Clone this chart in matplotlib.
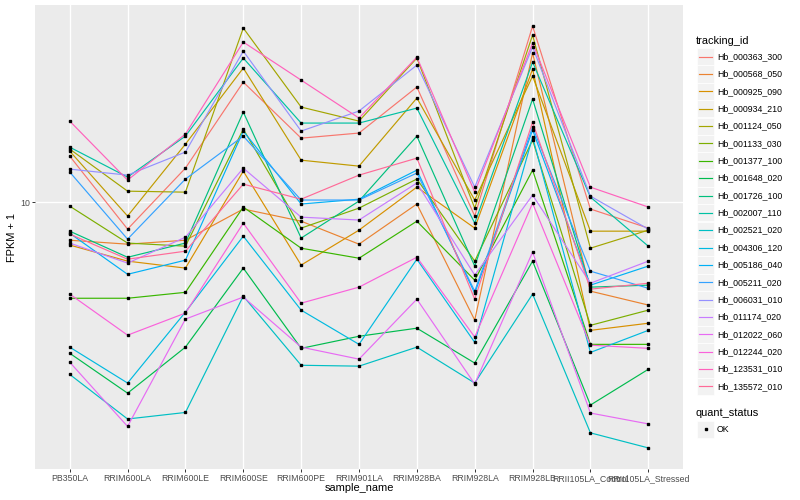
import numpy as np
import matplotlib
matplotlib.use("Agg")
from matplotlib import pyplot as plt, ticker
from matplotlib.patches import Rectangle
from matplotlib.lines import Line2D

plt.rcParams['font.family'] = ['Liberation Sans', 'DejaVu Sans']

samples = ["PB350LA", "RRIM600LA", "RRIM600LE", "RRIM600SE", "RRIM600PE",
           "RRIM901LA", "RRIM928BA", "RRIM928LA", "RRIM928LB",
           "RRII105LA_Control", "RRII105LA_Stressed"]

tracking_ids = ["Hb_000363_300", "Hb_000568_050", "Hb_000925_090", "Hb_000934_210",
                "Hb_001124_050", "Hb_001133_030", "Hb_001377_100", "Hb_001648_020",
                "Hb_001726_100", "Hb_002007_110", "Hb_002521_020", "Hb_004306_120",
                "Hb_005186_040", "Hb_005211_020", "Hb_006031_010", "Hb_011174_020",
                "Hb_012022_060", "Hb_012244_020", "Hb_123531_010", "Hb_135572_010"]

# FPKM + 1, one list per gene, in sample order
hb_000363_300 = [13.03, 8.56, 12.16, 19.95, 14.45, 14.88, 19.39, 9.23, 27.54, 9.61, 8.61]
hb_000568_050 = [8.03, 7.85, 8.03, 9.61, 8.96, 7.85, 9.89, 5.07, 23.58, 5.99, 5.53]
hb_000925_090 = [7.81, 7.12, 6.84, 11.95, 6.96, 8.51, 10.90, 8.61, 21.50, 4.78, 4.98]
hb_000934_210 = [13.41, 9.23, 13.96, 21.63, 12.73, 12.30, 18.20, 10.12, 20.65, 8.46, 8.46]
hb_001124_050 = [13.57, 10.65, 10.59, 27.23, 17.28, 15.94, 22.91, 9.66, 26.15, 7.67, 8.51]
hb_001133_030 = [9.77, 7.90, 7.76, 15.22, 8.61, 9.66, 11.42, 7.12, 14.29, 4.92, 5.37]
hb_001377_100 = [5.75, 5.75, 5.95, 9.72, 7.67, 7.24, 8.96, 6.38, 12.02, 4.41, 4.41]
hb_001648_020 = [4.19, 3.33, 4.34, 6.84, 4.31, 4.62, 4.84, 3.96, 7.12, 3.11, 3.82]
hb_001726_100 = [8.46, 7.28, 7.90, 16.79, 8.13, 10.06, 14.62, 6.92, 18.09, 6.13, 6.20]
hb_002007_110 = [13.72, 11.55, 14.62, 22.91, 15.76, 15.76, 17.18, 8.86, 22.39, 10.29, 7.76]
hb_002521_020 = [3.71, 2.87, 2.98, 5.82, 3.91, 3.89, 4.34, 3.53, 5.89, 2.65, 2.43]
hb_004306_120 = [4.34, 3.53, 5.31, 8.22, 5.37, 4.41, 7.20, 4.46, 14.54, 4.21, 4.78]
hb_005186_040 = [8.36, 6.60, 7.16, 15.05, 9.89, 10.17, 12.02, 5.92, 15.14, 6.20, 6.92]
hb_005211_020 = [11.89, 8.08, 11.42, 14.62, 10.12, 10.12, 11.82, 5.99, 15.40, 6.72, 6.09]
hb_006031_010 = [12.09, 11.68, 13.34, 23.85, 15.05, 16.89, 22.00, 10.90, 24.41, 10.35, 8.56]
hb_011174_020 = [7.90, 7.04, 8.17, 12.16, 9.17, 9.02, 11.16, 6.57, 10.41, 6.27, 7.12]
hb_012022_060 = [3.98, 2.75, 5.10, 5.79, 4.34, 4.05, 5.72, 3.51, 7.50, 2.97, 2.79]
hb_012244_020 = [5.89, 4.65, 5.28, 8.86, 5.59, 6.13, 7.28, 4.60, 9.94, 4.39, 4.31]
hb_123531_010 = [15.94, 11.35, 14.79, 25.12, 20.18, 16.22, 23.04, 10.59, 24.97, 10.90, 9.72]
hb_135572_010 = [8.32, 7.20, 7.54, 11.09, 10.17, 11.68, 12.88, 5.72, 15.85, 6.06, 6.27]

series = [hb_000363_300, hb_000568_050, hb_000925_090, hb_000934_210, hb_001124_050,
          hb_001133_030, hb_001377_100, hb_001648_020, hb_001726_100, hb_002007_110,
          hb_002521_020, hb_004306_120, hb_005186_040, hb_005211_020, hb_006031_010,
          hb_011174_020, hb_012022_060, hb_012244_020, hb_123531_010, hb_135572_010]


def hcl(h, c=100.0, l=65.0):
    # polar Luv -> sRGB, same as R's hcl()
    un, vn = 0.1978398, 0.4683363
    Y = ((l + 16) / 116.0) ** 3
    u = c * np.cos(np.radians(h)) / (13 * l) + un
    v = c * np.sin(np.radians(h)) / (13 * l) + vn
    X = 9.0 * Y * u / (4 * v)
    Z = -X / 3.0 - 5 * Y + 3 * Y / v
    rgb = [3.240479 * X - 1.537150 * Y - 0.498535 * Z,
           -0.969256 * X + 1.875992 * Y + 0.041556 * Z,
           0.055648 * X - 0.204043 * Y + 1.057311 * Z]
    out = []
    for ch in rgb:
        ch = 12.92 * ch if ch <= 0.0031308 else 1.055 * ch ** (1 / 2.4) - 0.055
        out.append(min(max(ch, 0.0), 1.0))
    return out


n = len(tracking_ids)
colors = [hcl(15 + i * 360.0 / n) for i in range(n)]

W, H = 800, 500
fig = plt.figure(figsize=(8, 5), dpi=100)
ax = fig.add_axes([35 / W, 1 - 469 / H, 648 / W, 464 / H])
ax.set_facecolor("#EBEBEB")

x = np.arange(1, len(samples) + 1)
for vals, col in zip(series, colors):
    ax.plot(x, vals, color=col, lw=0.85, zorder=2)
for vals in series:
    ax.plot(x, vals, ls="none", marker="s", ms=1.8, color="black", zorder=3)

ax.set_yscale("log")
allv = np.concatenate([np.array(s) for s in series])
lo, hi = np.log10(allv.min()), np.log10(allv.max())
pad = (hi - lo) * 0.05
ax.set_ylim(10 ** (lo - pad), 10 ** (hi + pad))
ax.set_xlim(0.4, len(samples) + 0.6)
ax.set_yticks([10])
ax.set_yticklabels(["10"])
ax.yaxis.set_minor_locator(ticker.NullLocator())
ax.set_xticks(x)
ax.set_xticklabels(samples)
ax.grid(True, color="white", lw=1.0)
ax.set_axisbelow(True)
for s in ax.spines.values():
    s.set_visible(False)
ax.tick_params(length=2, width=0.7, color="#333333", labelsize=6.3,
               labelcolor="#4D4D4D", pad=1.6)

fig.text(359 / W, 1 - 488 / H, "sample_name", fontsize=7.9, ha="center", va="center")
fig.text(12 / W, 1 - 237 / H, "FPKM + 1", fontsize=7.9, ha="center", va="center",
         rotation=90)

# legend: tracking_id
fig.text(696 / W, 1 - 40.7 / H, "tracking_id", fontsize=7.9, ha="left", va="center")
for i, (name, col) in enumerate(zip(tracking_ids, colors)):
    yc = 56.7 + i * 17.35
    fig.add_artist(Rectangle((697 / W, 1 - (yc + 8.6) / H), 17 / W, 17.2 / H,
                             transform=fig.transFigure, facecolor="#F2F2F2",
                             edgecolor="white", lw=0.5))
    fig.add_artist(Line2D([698.7 / W, 712.3 / W], [1 - yc / H] * 2,
                          transform=fig.transFigure, color=col, lw=0.85))
    fig.text(717 / W, 1 - yc / H, name, fontsize=6.3, ha="left", va="center")

# legend: quant_status
fig.text(696 / W, 1 - 412.7 / H, "quant_status", fontsize=7.9, ha="left", va="center")
fig.add_artist(Rectangle((697 / W, 1 - (429.3 + 8.6) / H), 17 / W, 17.2 / H,
                         transform=fig.transFigure, facecolor="#F2F2F2",
                         edgecolor="white", lw=0.5))
fig.add_artist(Line2D([705.5 / W], [1 - 429.3 / H], transform=fig.transFigure,
                      ls="none", marker="s", ms=1.8, color="black"))
fig.text(717 / W, 1 - 429.3 / H, "OK", fontsize=6.3, ha="left", va="center")

fig.savefig("out.png", dpi=100)
